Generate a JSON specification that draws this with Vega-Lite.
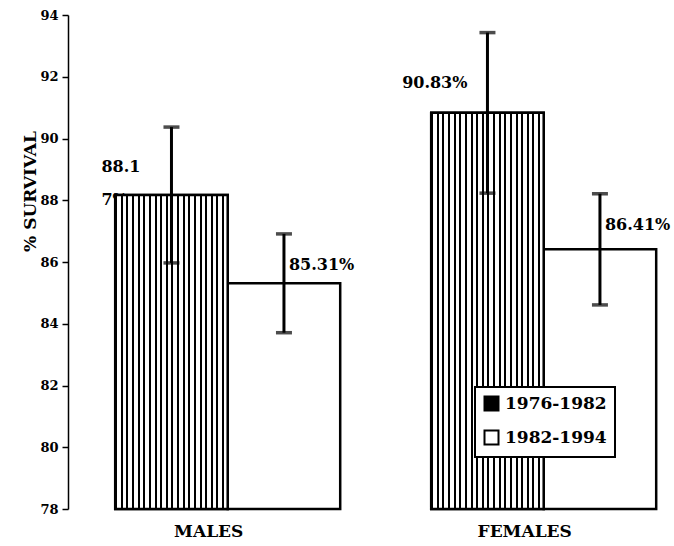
{
  "$schema": "https://vega.github.io/schema/vega-lite/v6.json",
  "width": 600,
  "height": 494,
  "autosize": {"type": "none"},
  "padding": {"left": 68, "top": 15, "right": 6, "bottom": 37},
  "background": "white",
  "config": {
    "view": {"stroke": null},
    "font": "DejaVu Serif",
    "legend": {"strokeWidth": 2}
  },
  "data": {
    "values": [
      {"sex": "MALES", "period": "1976-1982", "survival": 88.17, "lo": 85.97, "hi": 90.37, "label": "88.1\n7%"},
      {"sex": "MALES", "period": "1982-1994", "survival": 85.31, "lo": 83.71, "hi": 86.91, "label": "85.31%"},
      {"sex": "FEMALES", "period": "1976-1982", "survival": 90.83, "lo": 88.23, "hi": 93.43, "label": "90.83%"},
      {"sex": "FEMALES", "period": "1982-1994", "survival": 86.41, "lo": 84.61, "hi": 88.21, "label": "86.41%"}
    ]
  },
  "encoding": {
    "x": {
      "field": "sex", "type": "nominal", "sort": ["MALES", "FEMALES"],
      "scale": {"paddingInner": 0.288, "paddingOuter": 0.0934, "align": 0.8},
      "axis": {
        "title": null, "domain": false, "ticks": false, "labelAngle": 0,
        "labelFont": "DejaVu Serif", "labelFontWeight": "bold", "labelFontSize": 17,
        "labelColor": "black", "labelPadding": 14, "labelOffset": -19
      }
    },
    "xOffset": {
      "field": "period", "type": "nominal", "sort": ["1976-1982", "1982-1994"],
      "scale": {"paddingInner": 0, "paddingOuter": 0}
    }
  },
  "layer": [
    {
      "transform": [{"filter": "datum.sex === 'MALES' && datum.period === '1976-1982'"}],
      "mark": {"type": "text", "align": "left", "baseline": "alphabetic", "dx": -70, "dy": -23, "lineBreak": "\n", "lineHeight": 33, "font": "DejaVu Serif", "fontWeight": "bold", "fontSize": 16, "color": "black"},
      "encoding": {
        "y": {"field": "survival", "type": "quantitative"},
        "text": {"field": "label"}
      }
    },
    {
      "mark": {"type": "bar", "stroke": "black", "strokeWidth": 2.5},
      "encoding": {
        "y": {
          "field": "survival", "type": "quantitative",
          "scale": {"domain": [78, 94], "zero": false, "nice": false},
          "axis": {
            "values": [78, 80, 82, 84, 86, 88, 90, 92, 94],
            "grid": false, "tickSize": 6, "tickColor": "black", "tickWidth": 1.5,
            "domainColor": "black", "domainWidth": 1.5, "labelPadding": 4,
            "labelFont": "DejaVu Serif", "labelFontWeight": "bold", "labelFontSize": 13, "labelColor": "black",
            "title": "% SURVIVAL", "titleFont": "DejaVu Serif", "titleFontWeight": "bold", "titleFontSize": 17,
            "titleColor": "black", "titleX": -38, "titleY": 176, "titleAlign": "center", "titleBaseline": "middle", "titleAngle": -90
          }
        },
        "y2": {"datum": 78},
        "fill": {
          "field": "period", "type": "nominal", "sort": ["1976-1982", "1982-1994"],
          "scale": {"range": ["#000000", "#ffffff"]},
          "legend": {
            "title": null, "orient": "none", "legendX": 407, "legendY": 372,
            "fillColor": "white", "strokeColor": "black", "padding": 8,
            "symbolType": "square", "symbolSize": 196, "symbolStrokeColor": "black", "symbolStrokeWidth": 2,
            "labelFont": "DejaVu Serif", "labelFontWeight": "bold", "labelFontSize": 17, "labelColor": "black",
            "rowPadding": 11, "labelLimit": 200, "labelOffset": 5
          }
        }
      }
    },
    {
      "transform": [{"filter": "datum.period === '1976-1982'"}],
      "mark": {
        "type": "bar", "stroke": "black", "strokeWidth": 2.5,
        "fill": {
          "gradient": "linear", "x1": 0, "y1": 0, "x2": 1, "y2": 0,
          "stops": [
            {"offset": 0, "color": "#000"}, {"offset": 0.018, "color": "#000"}, {"offset": 0.018, "color": "#fff"}, {"offset": 0.05, "color": "#fff"},
            {"offset": 0.05, "color": "#000"}, {"offset": 0.068, "color": "#000"}, {"offset": 0.068, "color": "#fff"}, {"offset": 0.1, "color": "#fff"},
            {"offset": 0.1, "color": "#000"}, {"offset": 0.118, "color": "#000"}, {"offset": 0.118, "color": "#fff"}, {"offset": 0.15, "color": "#fff"},
            {"offset": 0.15, "color": "#000"}, {"offset": 0.168, "color": "#000"}, {"offset": 0.168, "color": "#fff"}, {"offset": 0.2, "color": "#fff"},
            {"offset": 0.2, "color": "#000"}, {"offset": 0.218, "color": "#000"}, {"offset": 0.218, "color": "#fff"}, {"offset": 0.25, "color": "#fff"},
            {"offset": 0.25, "color": "#000"}, {"offset": 0.268, "color": "#000"}, {"offset": 0.268, "color": "#fff"}, {"offset": 0.3, "color": "#fff"},
            {"offset": 0.3, "color": "#000"}, {"offset": 0.318, "color": "#000"}, {"offset": 0.318, "color": "#fff"}, {"offset": 0.35, "color": "#fff"},
            {"offset": 0.35, "color": "#000"}, {"offset": 0.368, "color": "#000"}, {"offset": 0.368, "color": "#fff"}, {"offset": 0.4, "color": "#fff"},
            {"offset": 0.4, "color": "#000"}, {"offset": 0.418, "color": "#000"}, {"offset": 0.418, "color": "#fff"}, {"offset": 0.45, "color": "#fff"},
            {"offset": 0.45, "color": "#000"}, {"offset": 0.468, "color": "#000"}, {"offset": 0.468, "color": "#fff"}, {"offset": 0.5, "color": "#fff"},
            {"offset": 0.5, "color": "#000"}, {"offset": 0.518, "color": "#000"}, {"offset": 0.518, "color": "#fff"}, {"offset": 0.55, "color": "#fff"},
            {"offset": 0.55, "color": "#000"}, {"offset": 0.568, "color": "#000"}, {"offset": 0.568, "color": "#fff"}, {"offset": 0.6, "color": "#fff"},
            {"offset": 0.6, "color": "#000"}, {"offset": 0.618, "color": "#000"}, {"offset": 0.618, "color": "#fff"}, {"offset": 0.65, "color": "#fff"},
            {"offset": 0.65, "color": "#000"}, {"offset": 0.668, "color": "#000"}, {"offset": 0.668, "color": "#fff"}, {"offset": 0.7, "color": "#fff"},
            {"offset": 0.7, "color": "#000"}, {"offset": 0.718, "color": "#000"}, {"offset": 0.718, "color": "#fff"}, {"offset": 0.75, "color": "#fff"},
            {"offset": 0.75, "color": "#000"}, {"offset": 0.768, "color": "#000"}, {"offset": 0.768, "color": "#fff"}, {"offset": 0.8, "color": "#fff"},
            {"offset": 0.8, "color": "#000"}, {"offset": 0.818, "color": "#000"}, {"offset": 0.818, "color": "#fff"}, {"offset": 0.85, "color": "#fff"},
            {"offset": 0.85, "color": "#000"}, {"offset": 0.868, "color": "#000"}, {"offset": 0.868, "color": "#fff"}, {"offset": 0.9, "color": "#fff"},
            {"offset": 0.9, "color": "#000"}, {"offset": 0.918, "color": "#000"}, {"offset": 0.918, "color": "#fff"}, {"offset": 0.95, "color": "#fff"},
            {"offset": 0.95, "color": "#000"}, {"offset": 0.968, "color": "#000"}, {"offset": 0.968, "color": "#fff"}, {"offset": 1, "color": "#fff"}
          ]
        }
      },
      "encoding": {
        "y": {"field": "survival", "type": "quantitative"},
        "y2": {"datum": 78}
      }
    },
    {
      "mark": {"type": "rule", "color": "black", "strokeWidth": 3},
      "encoding": {
        "y": {"field": "lo", "type": "quantitative"},
        "y2": {"field": "hi"}
      }
    },
    {
      "mark": {"type": "tick", "color": "black", "size": 16, "thickness": 3.5},
      "encoding": {"y": {"field": "lo", "type": "quantitative"}}
    },
    {
      "mark": {"type": "tick", "color": "black", "size": 16, "thickness": 3.5},
      "encoding": {"y": {"field": "hi", "type": "quantitative"}}
    },
    {
      "transform": [{"filter": "datum.sex === 'MALES' && datum.period === '1982-1994'"}],
      "mark": {"type": "text", "align": "left", "baseline": "alphabetic", "dx": 5, "dy": -13, "font": "DejaVu Serif", "fontWeight": "bold", "fontSize": 16, "color": "black"},
      "encoding": {
        "y": {"field": "survival", "type": "quantitative"},
        "text": {"field": "label"}
      }
    },
    {
      "transform": [{"filter": "datum.sex === 'FEMALES' && datum.period === '1982-1994'"}],
      "mark": {"type": "text", "align": "left", "baseline": "alphabetic", "dx": 5, "dy": -19, "font": "DejaVu Serif", "fontWeight": "bold", "fontSize": 16, "color": "black"},
      "encoding": {
        "y": {"field": "survival", "type": "quantitative"},
        "text": {"field": "label"}
      }
    },
    {
      "transform": [{"filter": "datum.sex === 'FEMALES' && datum.period === '1976-1982'"}],
      "mark": {"type": "text", "align": "right", "baseline": "alphabetic", "dx": -20, "dy": -25, "font": "DejaVu Serif", "fontWeight": "bold", "fontSize": 16, "color": "black"},
      "encoding": {
        "y": {"field": "survival", "type": "quantitative"},
        "text": {"field": "label"}
      }
    }
  ]
}
